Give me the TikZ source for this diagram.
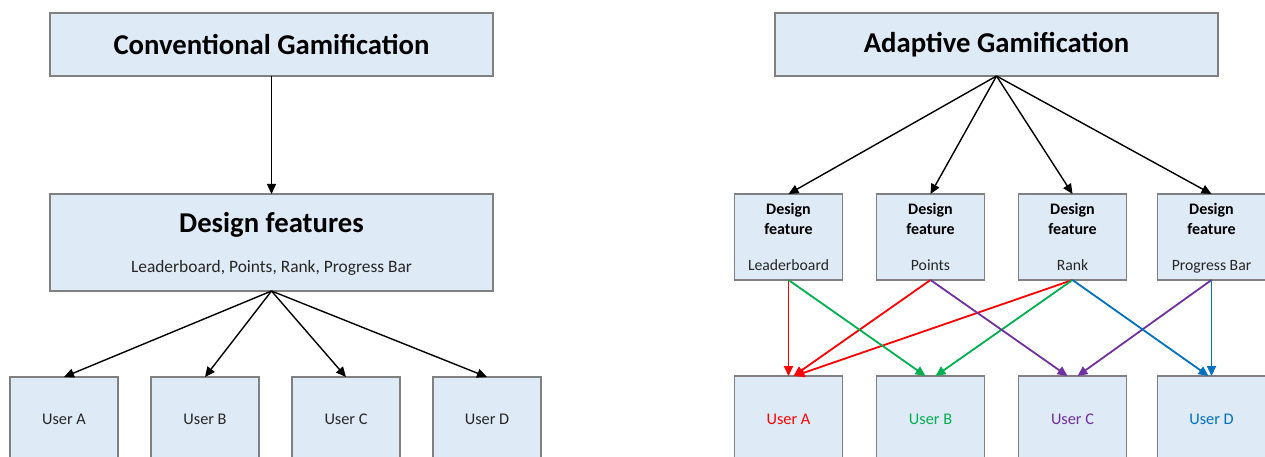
\documentclass[tikz,border=0pt]{standalone}
\usepackage{fontspec}
\setmainfont{Carlito}
\usetikzlibrary{arrows.meta,calc}
\definecolor{boxfill}{HTML}{DEEAF6}
\definecolor{boxline}{HTML}{808080}
\definecolor{txtgray}{HTML}{262626}
\definecolor{ured}{HTML}{FF0000}
\definecolor{ugreen}{HTML}{00B050}
\definecolor{upurple}{HTML}{7030A0}
\definecolor{ublue}{HTML}{0070C0}
\tikzset{
  box/.style={draw=boxline, fill=boxfill, line width=1.2pt, inner sep=0pt, outer sep=0pt},
  bigbox/.style={box, minimum width=443pt, minimum height=63pt},
  featbox/.style={box, minimum width=108pt, minimum height=86pt},
  userbox/.style={box, minimum width=108pt, minimum height=110pt, anchor=north},
  titletxt/.style={font=\fontsize{28.7}{32}\selectfont\bfseries, inner sep=0pt},
  subtxt/.style={font=\fontsize{17.4}{20}\selectfont, text=txtgray, inner sep=0pt},
  ftitle/.style={font=\fontsize{16}{19.5}\selectfont\bfseries, align=center, inner sep=0pt},
  ftxt/.style={font=\fontsize{15.7}{18}\selectfont, text=txtgray, inner sep=0pt, text height=11pt, text depth=3.5pt},
  usertxt/.style={font=\fontsize{16.3}{18}\selectfont, inner sep=0pt},
  blk/.style={draw=black, line width=1.4pt, -{Triangle[length=10pt,width=9pt]}},
  col/.style={draw=#1, line width=1.8pt, -{Triangle[length=10pt,width=9pt]}},
}
\begin{document}
\begin{tikzpicture}[x=1pt,y=-1pt]
\useasboundingbox (0,0) rectangle (1265,457);
\clip (0,0) rectangle (1265,457);
% Left side
\node[bigbox] (cg) at (271.5,44.5) {};
\node[titletxt] (cgt) at (271.5,44.5) {Conventional Gamification};
\node[box, minimum width=443pt, minimum height=97pt] (df) at (271.5,242.5) {};
\node[titletxt] (dft) at (271.5,225) {Design features};
\node[subtxt] (dfs) at (271.5,268) {Leaderboard, Points, Rank, Progress Bar};
\node[userbox] (la) at (64,377) {};
\node[userbox] (lb) at (205,377) {};
\node[userbox] (lc) at (346,377) {};
\node[userbox] (ld) at (487,377) {};
\node[usertxt, text=txtgray] (lat) at (64,419) {User A};
\node[usertxt, text=txtgray] (lbt) at (205,419) {User B};
\node[usertxt, text=txtgray] (lct) at (346,419) {User C};
\node[usertxt, text=txtgray] (ldt) at (487,419) {User D};
\draw[blk] (cg.south) -- (df.north);
\draw[blk] (df.south) -- (la.north);
\draw[blk] (df.south) -- (lb.north);
\draw[blk] (df.south) -- (lc.north);
\draw[blk] (df.south) -- (ld.north);
% Right side
\node[bigbox] (ag) at (996.5,44.5) {};
\node[titletxt] (agt) at (996.5,44.5) {Adaptive Gamification};
\foreach \n/\x/\lab in {f1/788.5/Leaderboard, f2/930.5/Points, f3/1072.5/Rank, f4/1211.5/Progress Bar}{
  \node[featbox] (\n) at (\x,237) {};
  \node[ftitle] (\n t) at (\x,219) {Design\\feature};
  \node[ftxt] (\n s) at (\x,266.5) {\lab};
}
\node[userbox] (ua) at (788.5,376) {};
\node[userbox] (ub) at (930.5,376) {};
\node[userbox] (uc) at (1072.5,376) {};
\node[userbox] (ud) at (1211.5,376) {};
\node[usertxt, text=ured] (uat) at (788.5,419) {User A};
\node[usertxt, text=ugreen] (ubt) at (930.5,419) {User B};
\node[usertxt, text=upurple] (uct) at (1072.5,419) {User C};
\node[usertxt, text=ublue] (udt) at (1211.5,419) {User D};
\draw[blk] (ag.south) -- (f1.north);
\draw[blk] (ag.south) -- (f2.north);
\draw[blk] (ag.south) -- (f3.north);
\draw[blk] (ag.south) -- (f4.north);
% coloured connectors
\draw[col=ured] (f1.south) -- (ua.north);
\draw[col=ured] (f2.south) -- ($(ua.north)+(5,0)$);
\draw[col=ured] (f3.south) -- ($(ua.north)+(6,0)$);
\draw[col=ugreen] (f1.south) -- ($(ub.north)+(-5,0)$);
\draw[col=ugreen] (f3.south) -- ($(ub.north)+(5,0)$);
\draw[col=upurple] (f2.south) -- ($(uc.north)+(-5,0)$);
\draw[col=upurple] (f4.south) -- ($(uc.north)+(5,0)$);
\draw[col=ublue] (f3.south) -- ($(ud.north)+(-3,0)$);
\draw[col=ublue] (f4.south) -- (ud.north);
\end{tikzpicture}
\end{document}
